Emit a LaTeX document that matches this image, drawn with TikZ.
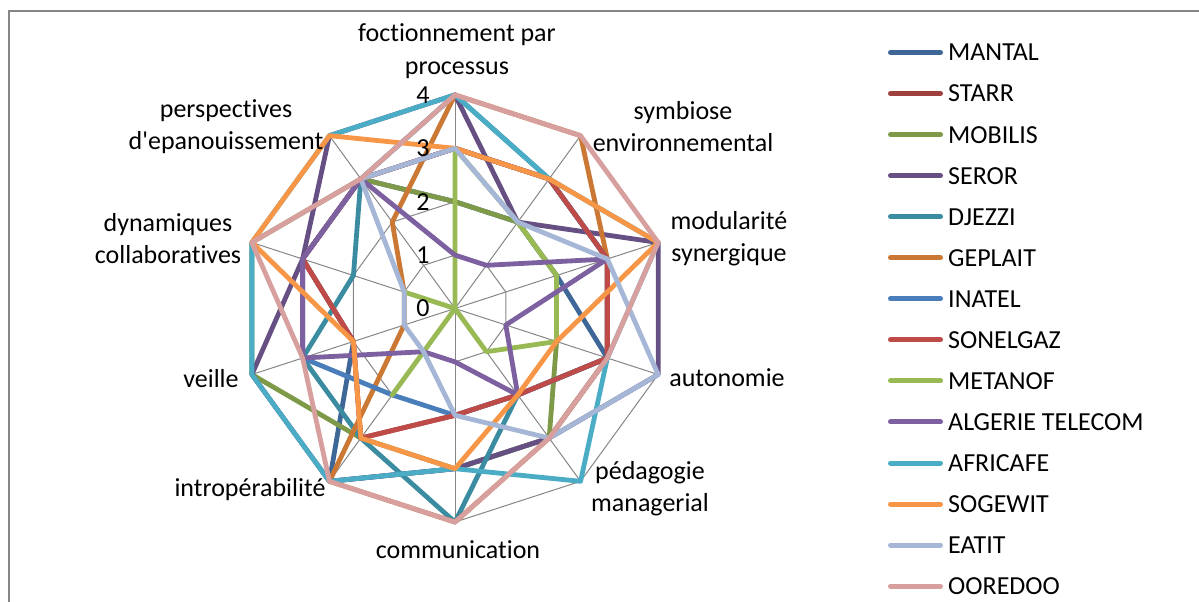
\documentclass[tikz,border=0pt]{standalone}
\usepackage{fontspec}
\setmainfont{Carlito}[Ligatures=NoCommon]
\definecolor{gris}{HTML}{868686}
\definecolor{cMantal}{HTML}{3E6697}
\definecolor{cStarr}{HTML}{9E413E}
\definecolor{cMobilis}{HTML}{7E9A48}
\definecolor{cSeror}{HTML}{664F83}
\definecolor{cDjezzi}{HTML}{3C8CA1}
\definecolor{cGeplait}{HTML}{CA7834}
\definecolor{cInatel}{HTML}{4A7EBB}
\definecolor{cSonelgaz}{HTML}{BE4B48}
\definecolor{cMetanof}{HTML}{98B954}
\definecolor{cAlgerie}{HTML}{7D60A0}
\definecolor{cAfricafe}{HTML}{4BACC6}
\definecolor{cSogewit}{HTML}{F79646}
\definecolor{cEatit}{HTML}{A5B6D6}
\definecolor{cOoredoo}{HTML}{D7A09F}
\tikzset{
  cadre/.style={draw=gris,line width=2pt},
  grille/.style={draw=gris,line width=1pt},
  serie/.style={line width=4.8pt,line join=round,line cap=round},
  lbl/.style={font=\fontsize{26}{32.5}\selectfont,align=center,inner sep=0pt},
  val/.style={font=\fontsize{26}{32.5}\selectfont,inner sep=0pt},
  legline/.style={line width=5pt,line cap=round},
  legtxt/.style={font=\fontsize{26}{32.5}\selectfont,anchor=base west,inner sep=0pt}
}
\begin{document}
\begin{tikzpicture}[x=1pt,y=-1pt]
\useasboundingbox (0,0) rectangle (1199,602);
\draw[cadre] (9,602) -- (9,11) -- (1199,11);
\begin{scope}[shift={(455,308.5)},x=53.4pt,y=-53.4pt]
% grille du radar
\foreach \r in {1,2,3,4}
  \draw[grille] (-90:\r) -- (-54:\r) -- (-18:\r) -- (18:\r) -- (54:\r) -- (90:\r) -- (126:\r) -- (162:\r) -- (198:\r) -- (234:\r) -- cycle;
\foreach \a in {-90,-54,...,234}
  \draw[grille] (0,0) -- (\a:4);
% series
\draw[serie,cMantal] (-90:2) -- (-54:2) -- (-18:2) -- (18:3) -- (54:3) -- (90:3) -- (126:4) -- (162:2) -- (198:3) -- (234:3) -- cycle;
\draw[serie,cStarr] (-90:3) -- (-54:3) -- (-18:3) -- (18:3) -- (54:2) -- (90:2) -- (126:3) -- (162:2) -- (198:3) -- (234:3) -- cycle;
\draw[serie,cMobilis] (-90:2) -- (-54:2) -- (-18:2) -- (18:2) -- (54:3) -- (90:3) -- (126:3) -- (162:4) -- (198:4) -- (234:3) -- cycle;
\draw[serie,cSeror] (-90:4) -- (-54:2) -- (-18:4) -- (18:4) -- (54:3) -- (90:3) -- (126:4) -- (162:4) -- (198:3) -- (234:4) -- cycle;
\draw[serie,cDjezzi] (-90:4) -- (-54:3) -- (-18:3) -- (18:3) -- (54:2) -- (90:4) -- (126:3) -- (162:3) -- (198:2) -- (234:3) -- cycle;
\draw[serie,cGeplait] (-90:4) -- (-54:4) -- (-18:3) -- (18:3) -- (54:3) -- (90:4) -- (126:4) -- (162:1) -- (198:1) -- (234:2) -- cycle;
\draw[serie,cInatel] (-90:3) -- (-54:3) -- (-18:3) -- (18:3) -- (54:2) -- (90:2) -- (126:2) -- (162:3) -- (198:3) -- (234:3) -- cycle;
\draw[serie,cSonelgaz] (-90:3) -- (-54:3) -- (-18:3) -- (18:3) -- (54:2) -- (90:2) -- (126:3) -- (162:2) -- (198:3) -- (234:3) -- cycle;
\draw[serie,cMetanof] (-90:3) -- (-54:2) -- (-18:2) -- (18:2) -- (54:1) -- (90:0) -- (126:2) -- (162:0) -- (198:1) -- (234:0) -- cycle;
\draw[serie,cAlgerie] (-90:1) -- (-54:1) -- (-18:3) -- (18:1) -- (54:2) -- (90:1) -- (126:1) -- (162:3) -- (198:3) -- (234:3) -- cycle;
\draw[serie,cAfricafe] (-90:4) -- (-54:3) -- (-18:4) -- (18:3) -- (54:4) -- (90:3) -- (126:4) -- (162:4) -- (198:4) -- (234:4) -- cycle;
\draw[serie,cSogewit] (-90:3) -- (-54:3) -- (-18:4) -- (18:2) -- (54:2) -- (90:3) -- (126:3) -- (162:2) -- (198:4) -- (234:4) -- cycle;
\draw[serie,cEatit] (-90:3) -- (-54:2) -- (-18:3) -- (18:4) -- (54:3) -- (90:2) -- (126:1) -- (162:1) -- (198:1) -- (234:3) -- cycle;
\draw[serie,cOoredoo] (-90:4) -- (-54:4) -- (-18:4) -- (18:3) -- (54:3) -- (90:4) -- (126:4) -- (162:3) -- (198:4) -- (234:3) -- cycle;
% echelle
\foreach \v in {0,...,4}
  \node[val,xshift=-32pt] (v\v) at (-90:\v) {\v};
\end{scope}
% axes
\node[lbl] (proc) at (457,51) {foctionnement par\\processus};
\node[lbl] (symb) at (683,126.5) {symbiose\\environnemental};
\node[lbl] (modu) at (729,238.5) {modularité\\synergique};
\node[lbl] (auto) at (727,378) {autonomie};
\node[lbl] (peda) at (650,488.5) {pédagogie\\managerial};
\node[lbl] (comm) at (458,550) {communication};
\node[lbl] (intr) at (250,490) {intropérabilité};
\node[lbl] (veil) at (211,379) {veille};
\node[lbl] (dyna) at (168,238.5) {dynamiques\\collaboratives};
\node[lbl] (pers) at (226,126.5) {perspectives\\d\textquotesingle epanouissement};
% legende
\foreach \nom/\col [count=\i from 0] in {MANTAL/cMantal,STARR/cStarr,MOBILIS/cMobilis,SEROR/cSeror,DJEZZI/cDjezzi,GEPLAIT/cGeplait,INATEL/cInatel,SONELGAZ/cSonelgaz,METANOF/cMetanof,ALGERIE TELECOM/cAlgerie,AFRICAFE/cAfricafe,SOGEWIT/cSogewit,EATIT/cEatit,OOREDOO/cOoredoo}
{
  \draw[legline,\col] (890.5,52.5+41.05*\i) -- (940.5,52.5+41.05*\i);
  \node[legtxt] (lg\i) at (948,60.9+41.05*\i) {\nom};
}
\end{tikzpicture}
\end{document}
